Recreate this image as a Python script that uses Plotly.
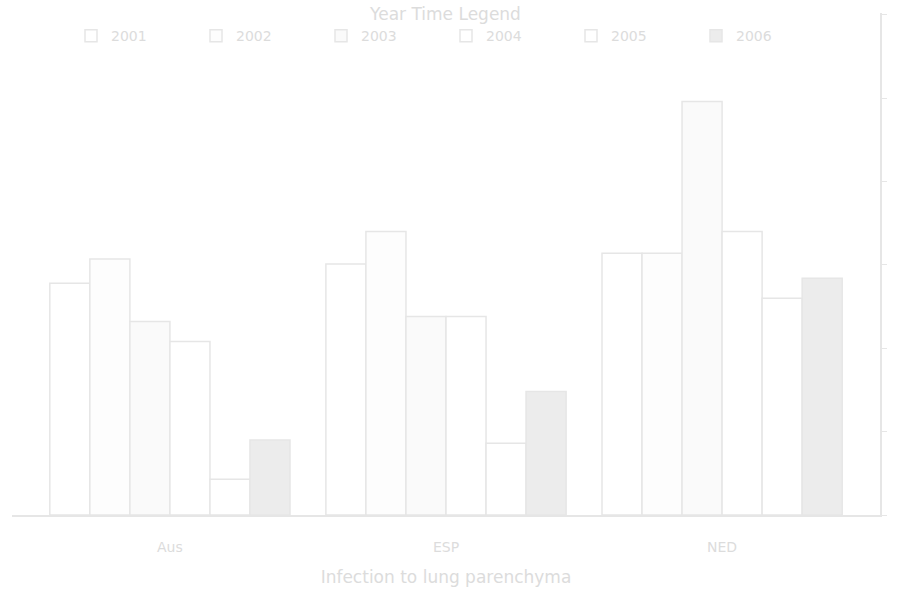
import plotly.graph_objects as go

categories = ["Aus", "ESP", "NED"]
series_names = ["2001", "2002", "2003", "2004", "2005", "2006"]
values = {
    "2001": [2.78, 3.01, 3.14],
    "2002": [3.07, 3.40, 3.14],
    "2003": [2.32, 2.38, 4.96],
    "2004": [2.08, 2.38, 3.40],
    "2005": [0.43, 0.86, 2.60],
    "2006": [0.90, 1.48, 2.84],
}
fills = ["#ffffff", "#fdfdfd", "#fafafa", "#ffffff", "#ffffff", "#ececec"]

line_c = "#e6e6e6"
text_c = "#dcdcdc"

fig = go.Figure()
for name, fc in zip(series_names, fills):
    fig.add_trace(go.Bar(
        x=categories, y=values[name], name=name,
        marker=dict(color=fc, line=dict(color=line_c, width=1.5)),
    ))

fig.update_layout(
    width=898, height=591,
    margin=dict(l=12, r=18, t=13, b=76, autoexpand=False),
    paper_bgcolor="white", plot_bgcolor="white",
    barmode="group", bargap=0.13, bargroupgap=0,
    font=dict(family="DejaVu Sans", size=14, color=text_c),
    showlegend=True,
    legend=dict(
        orientation="h", x=0.5, xanchor="center", y=1.03, yanchor="top",
        title=dict(text="Year Time Legend", side="top center"),
        entrywidth=80, bgcolor="rgba(0,0,0,0)",
        font=dict(color=text_c, size=14),
    ),
    xaxis=dict(
        range=[-0.572, 2.572], showline=True, linecolor=line_c, linewidth=1.5,
        ticks="", showgrid=False, zeroline=False, ticklabelstandoff=18,
        title=dict(text="Infection to lung parenchyma", standoff=18),
        tickfont=dict(color=text_c, size=14),
    ),
    yaxis=dict(
        side="right", range=[0, 6.02], dtick=1, showline=True, linecolor=line_c,
        linewidth=1.5, ticks="outside", ticklen=5, tickcolor=line_c,
        showticklabels=False, showgrid=False, zeroline=False,
    ),
)

fig.write_html("out.html")
